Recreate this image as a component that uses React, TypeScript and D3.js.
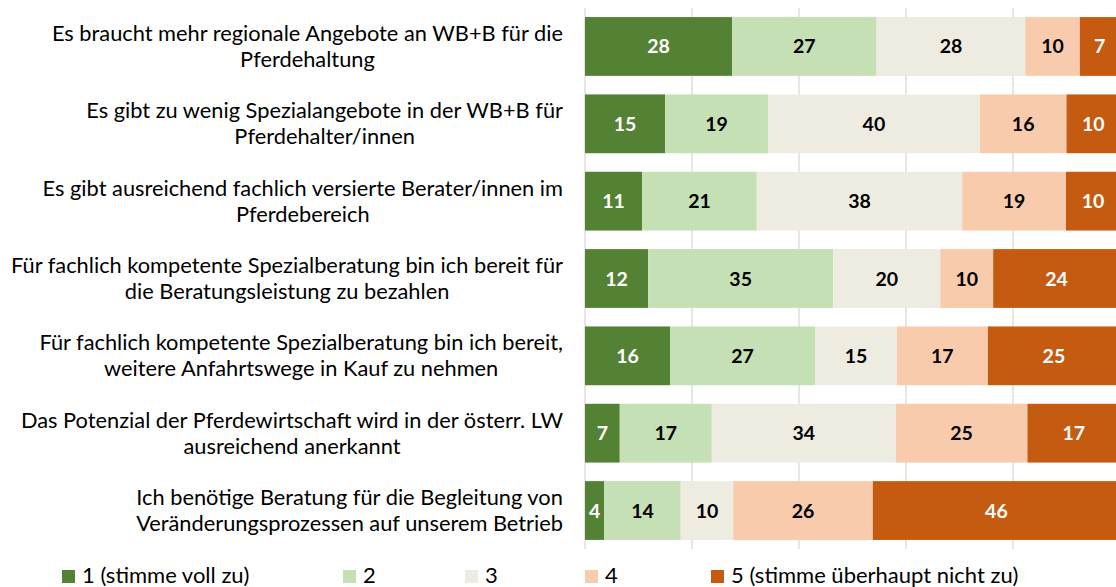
import React, { useEffect, useRef } from "react";
import * as d3 from "d3";

const categories: string[][] = [
  ["Es braucht mehr regionale Angebote an WB+B für die", "Pferdehaltung"],
  ["Es gibt zu wenig Spezialangebote in der WB+B für", "Pferdehalter/innen"],
  ["Es gibt ausreichend fachlich versierte Berater/innen im", "Pferdebereich"],
  ["Für fachlich kompetente Spezialberatung bin ich bereit für", "die Beratungsleistung zu bezahlen"],
  ["Für fachlich kompetente Spezialberatung bin ich bereit,", "weitere Anfahrtswege in Kauf zu nehmen"],
  ["Das Potenzial der Pferdewirtschaft wird in der österr. LW", "ausreichend anerkannt"],
  ["Ich benötige Beratung für die Begleitung von", "Veränderungsprozessen auf unserem Betrieb"],
];

const seriesNames = ["1 (stimme voll zu)", "2", "3", "4", "5 (stimme überhaupt nicht zu)"];

const s1 = [27.5, 15.0, 10.7, 11.8, 15.9, 6.5, 3.6];
const s2 = [27.0, 19.2, 21.4, 34.6, 27.1, 17.2, 14.3];
const s3 = [27.8, 39.6, 38.4, 20.0, 15.3, 34.4, 9.8];
const s4 = [10.2, 16.2, 19.4, 9.9, 17.0, 24.6, 26.1];
const s5 = [7.4, 10.0, 10.1, 23.7, 24.7, 17.3, 46.2];

const xTicks = [0, 20, 40, 60, 80, 100];

const colors = ["#548235", "#C5E0B4", "#EEECE1", "#F8CBAD", "#C55A11"];
const labelColors = ["#FFFFFF", "#000000", "#000000", "#000000", "#FFFFFF"];

const W = 1116;
const H = 587;
const FONT = "Lato, 'Open Sans', sans-serif";

export default function App() {
  const ref = useRef<SVGSVGElement>(null);

  useEffect(() => {
    const svg = d3.select(ref.current);
    svg.selectAll("*").remove();

    const values = [s1, s2, s3, s4, s5];
    const rows = categories.map((c, i) => {
      const r: any = { idx: i };
      values.forEach((s, k) => (r["k" + k] = s[i]));
      return r;
    });
    const keys = values.map((_, k) => "k" + k);
    const stacked = d3.stack<any>().keys(keys)(rows);

    const x = d3.scaleLinear().domain([0, 100]).range([585, 1120]);
    const y = d3
      .scaleBand<number>()
      .domain(categories.map((_, i) => i))
      .range([7.8, 549.2])
      .paddingInner(0.24)
      .paddingOuter(0.12);

    // gridlines
    svg
      .append("g")
      .selectAll("line")
      .data(xTicks)
      .join("line")
      .attr("x1", (d) => x(d))
      .attr("x2", (d) => x(d))
      .attr("y1", 7.8)
      .attr("y2", 549)
      .attr("stroke", "#D9D9D9")
      .attr("stroke-width", 1.3);

    // bars
    const g = svg.append("g");
    stacked.forEach((layer, k) => {
      g.append("g")
        .selectAll("rect")
        .data(layer)
        .join("rect")
        .attr("x", (d) => x(d[0]))
        .attr("width", (d) => x(d[1]) - x(d[0]))
        .attr("y", (d: any) => y(d.data.idx)!)
        .attr("height", y.bandwidth())
        .attr("fill", colors[k]);
      g.append("g")
        .selectAll("text")
        .data(layer)
        .join("text")
        .attr("x", (d) => (x(d[0]) + x(d[1])) / 2)
        .attr("y", (d: any) => y(d.data.idx)! + y.bandwidth() / 2)
        .attr("dy", "0.36em")
        .attr("text-anchor", "middle")
        .attr("font-family", FONT)
        .attr("font-weight", "bold")
        .attr("font-size", 19.5)
        .attr("fill", labelColors[k])
        .text((d) => String(Math.round(d[1] - d[0])));
    });

    // category labels
    const lab = svg.append("g");
    categories.forEach((lines, i) => {
      const cy = y(i)! + y.bandwidth() / 2;
      const t = lab
        .append("text")
        .attr("font-family", FONT)
        .attr("font-size", 21.8)
        .attr("fill", "#000")
        .attr("text-anchor", "middle");
      lines.forEach((ln, j) => {
        t.append("tspan")
          .attr("x", 0)
          .attr("y", cy + (j - (lines.length - 1) / 2) * 26)
          .attr("dy", "0.35em")
          .text(ln);
      });
      let maxW = 0;
      t.selectAll<SVGTSpanElement, unknown>("tspan").each(function () {
        maxW = Math.max(maxW, this.getComputedTextLength());
      });
      const center = 563 - maxW / 2;
      t.selectAll("tspan").attr("x", center);
    });

    // legend
    const legX = [62, 343, 465, 585, 711];
    const leg = svg.append("g");
    seriesNames.forEach((name, k) => {
      leg
        .append("rect")
        .attr("x", legX[k])
        .attr("y", 570)
        .attr("width", 13)
        .attr("height", 13)
        .attr("fill", colors[k]);
      leg
        .append("text")
        .attr("x", legX[k] + 20)
        .attr("y", 575)
        .attr("dy", "0.36em")
        .attr("font-family", FONT)
        .attr("font-size", 22)
        .attr("fill", "#000")
        .text(name);
    });
  }, []);

  return (
    <svg
      ref={ref}
      width={W}
      height={H}
      style={{ position: "absolute", left: 0, top: 0, background: "#fff" }}
    />
  );
}
